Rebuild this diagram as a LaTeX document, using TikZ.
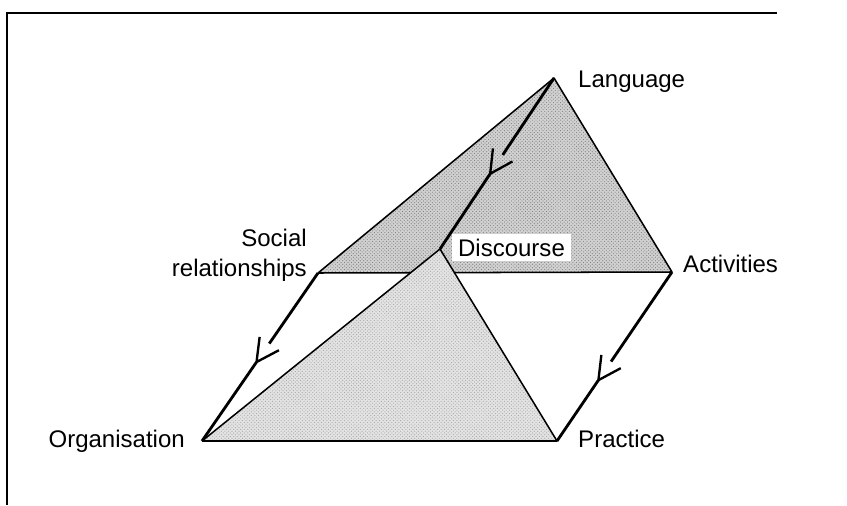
\documentclass[tikz,border=0pt]{standalone}
\usepackage{fontspec}
\setmainfont{Liberation Sans}
\usetikzlibrary{calc, patterns}

\begin{document}
\begin{tikzpicture}[x=0.03cm, y=-0.03cm, >=latex,
    lbl/.style={inner sep=0pt, font=\fontsize{20.5}{25.6}\selectfont},
    edge/.style={line width=1.3pt, line join=round},
    flow/.style={line width=2.4pt},
    barb/.style={line width=2pt, line join=miter}]

    \useasboundingbox (0, 0) rectangle (847, 505);
    % 1. Khung
    \draw[line width=1.2pt] (7, 505) -- (7, 13) -- (777, 13);

    % 2. Các đỉnh
    \coordinate (lang) at (554, 78);
    \coordinate (soc)  at (318, 273);
    \coordinate (act)  at (672, 272);
    \coordinate (disc) at (440, 249);
    \coordinate (org)  at (202, 441);
    \coordinate (prac) at (557, 441);

    % 3. Tam giác trên (màu xám đậm)
    \fill[black!18] (lang) -- (soc) -- (act) -- cycle;
    \fill[pattern=crosshatch dots, pattern color=black!50] (lang) -- (soc) -- (act) -- cycle;
    \draw[edge] (soc) -- (lang) -- (act) -- (soc);

    \node[lbl, fill=white, inner xsep=5pt, inner ysep=4pt, anchor=base west] (discourse) at (452, 256) {Discourse};

    % 4. Tam giác dưới (màu xám nhạt)
    \fill[black!11] (disc) -- (org) -- (prac) -- cycle;
    \fill[pattern=crosshatch dots, pattern color=black!35] (disc) -- (org) -- (prac) -- cycle;
    \draw[edge] (org) -- (disc) -- (prac) -- (org);

    % 5. Các cạnh có mũi tên hở (đường bị ngắt trước đầu mũi tên)
    \foreach \a/\b/\p/\q in {lang/disc/0.56/0.45, soc/org/0.53/0.42, act/prac/0.64/0.53} {
        \path (\a) -- (\b) coordinate[pos=\p] (tip) coordinate[pos=\q] (mouth);
        \draw[flow] (\a) -- (mouth) (tip) -- (\b);
        \draw[barb] ($(mouth)!10pt!90:(tip)$) -- (tip) -- ($(mouth)!10pt!-90:(tip)$);
    }

    % 6. Nhãn
    \node[lbl, anchor=base west] (language) at (578, 87) {Language};
    \node[lbl, anchor=base west] (activities) at (683, 272) {Activities};
    \node[lbl, anchor=base west] (practice) at (578, 447) {Practice};
    \node[lbl, anchor=base east] (organisation) at (185, 447) {Organisation};
    \node[lbl, anchor=north east, align=right] (social) at (307, 229) {Social\\relationships};
\end{tikzpicture}
\end{document}
